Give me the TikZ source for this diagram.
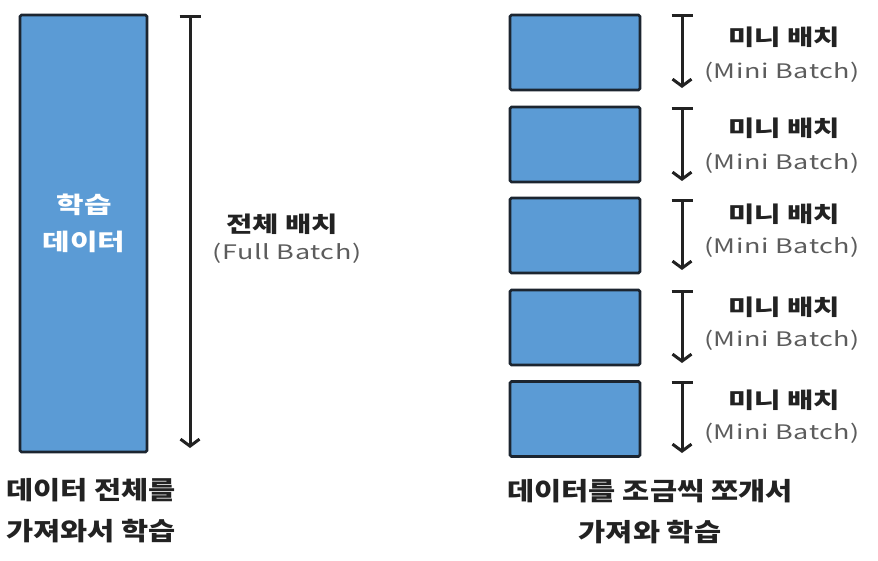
\documentclass[tikz,border=0pt]{standalone}
\usepackage{fontspec}
\setmainfont{Noto Sans CJK KR}
\newfontfamily\korwide[FakeStretch=1.3]{Noto Sans CJK KR}
\newfontfamily\engwide[FakeStretch=1.35, LetterSpace=3]{Noto Sans CJK KR}
\newfontfamily\capwide[FakeStretch=1.18]{Noto Sans CJK KR}
\usepackage{tikz}
\usetikzlibrary{arrows.meta}

\definecolor{batchblue}{HTML}{5B9BD5}
\definecolor{batchedge}{HTML}{1C2530}
\definecolor{inkdark}{HTML}{222222}
\definecolor{labelgray}{HTML}{5C5C5C}

\tikzset{
  batchbox/.style={draw=batchedge, line width=2.6pt, fill=batchblue, rounded corners=1.5pt, inner sep=0pt},
  spanline/.style={draw=inkdark, line width=3pt, {Bar[width=21pt]}-{Straight Barb[length=7pt,width=19pt]}},
  kortext/.style={font=\korwide\fontsize{22}{26}\selectfont\bfseries, text=inkdark, align=center, inner sep=0pt},
  engtext/.style={font=\engwide\fontsize{20}{24}\selectfont, text=labelgray, align=center, inner sep=0pt},
  captext/.style={font=\capwide\fontsize{25}{41}\selectfont\bfseries, text=inkdark, align=center, inner sep=0pt}
}

\begin{document}
\begin{tikzpicture}[x=1pt, y=-1pt]
  \useasboundingbox (0, 0) rectangle (878, 560);

  % Full batch
  \node[batchbox, minimum width=127pt, minimum height=437pt] (full) at (83.5, 233.5) {};
  \node[kortext, text=white, font=\korwide\fontsize{23}{37}\selectfont\bfseries] (fulltxt) at (84, 223.5) {학습\\데이터};

  \coordinate (fulltop) at (190, 15);
  \coordinate (fullbot) at (190, 448);
  \draw[spanline] (fulltop) -- (fullbot);

  \node[kortext] (fullkor) at (282, 224) {전체 배치};
  \node[engtext] (fulleng) at (287, 253) {(Full Batch)};

  \node[captext] (fullcap) at (91, 511) {데이터 전체를\\가져와서 학습};

  % Mini batches
  \node[batchbox, minimum width=130pt, minimum height=75pt] (mini1) at (575,  52.5) {};
  \coordinate (top1) at (682,  14);
  \coordinate (bot1) at (682,  88);
  \draw[spanline] (top1) -- (bot1);
  \node[kortext] (kor1) at (784,  37) {미니 배치};
  \node[engtext] (eng1) at (782,  72) {(Mini Batch)};

  \node[batchbox, minimum width=130pt, minimum height=75pt] (mini2) at (575, 144.5) {};
  \coordinate (top2) at (682, 107);
  \coordinate (bot2) at (682, 181);
  \draw[spanline] (top2) -- (bot2);
  \node[kortext] (kor2) at (784, 128) {미니 배치};
  \node[engtext] (eng2) at (782, 163) {(Mini Batch)};

  \node[batchbox, minimum width=130pt, minimum height=75pt] (mini3) at (575, 235.5) {};
  \coordinate (top3) at (682, 199);
  \coordinate (bot3) at (682, 270);
  \draw[spanline] (top3) -- (bot3);
  \node[kortext] (kor3) at (784, 214) {미니 배치};
  \node[engtext] (eng3) at (782, 247) {(Mini Batch)};

  \node[batchbox, minimum width=130pt, minimum height=75pt] (mini4) at (575, 327.5) {};
  \coordinate (top4) at (682, 290);
  \coordinate (bot4) at (682, 363);
  \draw[spanline] (top4) -- (bot4);
  \node[kortext] (kor4) at (784, 307) {미니 배치};
  \node[engtext] (eng4) at (782, 340) {(Mini Batch)};

  \node[batchbox, minimum width=130pt, minimum height=75pt] (mini5) at (575, 419) {};
  \coordinate (top5) at (682, 381);
  \coordinate (bot5) at (682, 453);
  \draw[spanline] (top5) -- (bot5);
  \node[kortext] (kor5) at (784, 400) {미니 배치};
  \node[engtext] (eng5) at (782, 433) {(Mini Batch)};

  \node[captext] (minicap) at (650, 512) {데이터를 조금씩 쪼개서\\가져와 학습};

\end{tikzpicture}
\end{document}
